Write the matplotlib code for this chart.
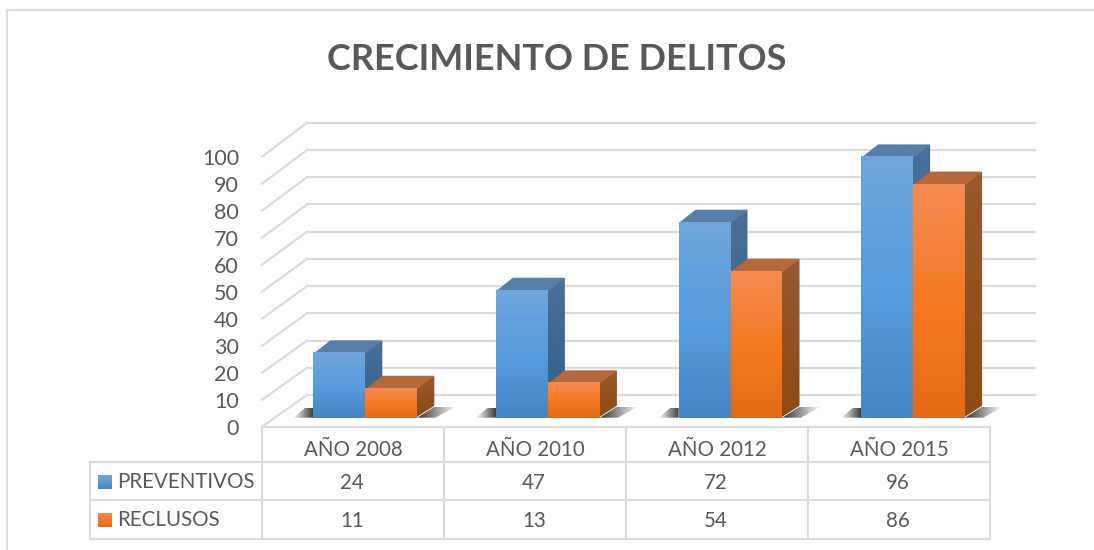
import numpy as np
import matplotlib
matplotlib.use('Agg')
import matplotlib.pyplot as plt
from matplotlib.lines import Line2D
from matplotlib.patches import Polygon
from matplotlib.table import Table
from matplotlib.transforms import Affine2D

plt.rcParams['font.family'] = ['Lato', 'DejaVu Sans']

# data
anios = ['AÑO 2008', 'AÑO 2010', 'AÑO 2012', 'AÑO 2015']
preventivos = [24, 47, 72, 96]
reclusos = [11, 13, 54, 86]
ticks = list(range(0, 101, 10))

W, H = 1094, 550
GRID = '#dcdcdc'
TXT = '#595959'

# 3d look, in axes data units (x = category, y = value)
PX = 182.0   # pixels per category
PY = 2.70    # pixels per value
DEEP = 2.722 / PY   # the back wall and the bars sit a little bigger than the front ticks
floor_y = 9 / PY
bar_w = 52 / PX
dep_x = 17 / PX
dep_y = 12 / PY
back_x = 45 / PX
back_y = 31.7 / PY
ov_x, ov_y = 1.5 / PX, 1.5 / PY   # faces overlap a bit so no white gap shows

blue = {'front': ['#70a6dd', '#569cdc', '#4585c5'], 'side': ['#4a7098', '#2f5f8d'], 'top': ['#567fa9', '#567fa9']}
orange = {'front': ['#f48c54', '#f57a22', '#e36a16'], 'side': ['#99582e', '#8f4a10'], 'top': ['#b5683c', '#b5683c']}

fig = plt.figure(figsize=(W / 100, H / 100), dpi=100)
ax = fig.add_axes([262 / W, 1 - 426.7 / H, 728 / W, 270 / H])
ax.set_xlim(0, 4)
ax.set_ylim(0, 100)
for s in ax.spines.values():
    s.set_visible(False)
ax.set_xticks([])
ax.set_yticks(ticks)
ax.tick_params(axis='y', length=0, pad=16.5, labelsize=15.5, labelcolor=TXT)


def grad(points, colors, z, horizontal=False):
    # gradient image clipped to a polygon
    pts = np.array(points)
    cmap = matplotlib.colors.LinearSegmentedColormap.from_list('g', colors)
    arr = np.linspace(0, 1, 128)
    arr = arr.reshape(1, -1) if horizontal else arr.reshape(-1, 1)
    im = ax.imshow(arr, cmap=cmap, aspect='auto', zorder=z, interpolation='bilinear',
                   extent=[pts[:, 0].min(), pts[:, 0].max(), pts[:, 1].min(), pts[:, 1].max()],
                   origin='upper' if not horizontal else 'lower')
    poly = Polygon(points, transform=ax.transData, facecolor='none', edgecolor='none')
    ax.add_patch(poly)
    im.set_clip_path(poly)
    im.set_clip_box(fig.bbox)


def bar3d(x, v, st, z):
    y0 = floor_y
    y1 = floor_y + v * DEEP
    xr = x + bar_w
    # shadows on the floor are drawn by the caller, here only the box
    grad([(xr - ov_x, y0), (xr + dep_x, y0 + dep_y), (xr + dep_x, y1 + dep_y), (xr - ov_x, y1)],
         st['side'], z)
    grad([(x, y1 - ov_y), (x + dep_x, y1 + dep_y), (xr + dep_x, y1 + dep_y), (xr, y1 - ov_y)],
         st['top'], z)
    grad([(x, y0), (xr, y0), (xr, y1), (x, y1)], st['front'], z + 0.1)


# walls
for t in ticks:
    ax.plot([0, back_x], [t, t * DEEP + back_y], color=GRID, lw=1.6, clip_on=False, zorder=1)
    ax.plot([back_x, 4 + back_x], [t * DEEP + back_y, t * DEEP + back_y], color=GRID, lw=1.6, clip_on=False, zorder=1)

# bars
for i in range(len(anios)):
    x = i * 182.6 / PX + 51.3 / PX
    # shadow left and right of the pair
    grad([(x - 20 / PX, floor_y), (x, floor_y), (x + 0.001, floor_y + 10 / PY), (x - 8 / PX, floor_y + 10 / PY)],
         ['#ffffff', '#333333'], 2, horizontal=True)
    xr = x + 2 * bar_w
    grad([(xr, floor_y), (xr + dep_x, floor_y + 11 / PY), (xr + 38 / PX, floor_y + 11 / PY), (xr + 18 / PX, floor_y)],
         ['#333333', '#ffffff'], 2, horizontal=True)
    bar3d(x, preventivos[i], blue, 3 + i)
    bar3d(x + bar_w, reclusos[i], orange, 3.5 + i)

ax.set_xlim(0, 4)
ax.set_ylim(0, 100)

# data table under the plot
tab = Table(ax, bbox=[(90 - 262) / 728, (426.7 - 539) / 270, (990 - 90) / 728, 112.3 / 270])
lab_w = 172 / 728
col_w = 182 / 728
for j, a in enumerate(anios):
    c = tab.add_cell(0, j + 1, col_w, 35, text=a, loc='center', edgecolor=GRID)
    c.get_text().set_transform(Affine2D().translate(0, -6))
names = ['PREVENTIVOS', 'RECLUSOS']
for r, (name, vals) in enumerate(zip(names, [preventivos, reclusos])):
    c = tab.add_cell(r + 1, 0, lab_w, 38.5, text=name, loc='left', edgecolor=GRID)
    c.PAD = 27 / 172
    c.get_text().set_transform(Affine2D().translate(0, -1 if r == 0 else 0))
    for j, v in enumerate(vals):
        c = tab.add_cell(r + 1, j + 1, col_w, 38.5, text=str(v), loc='center', edgecolor=GRID)
        c.get_text().set_transform(Affine2D().translate(-1, -2 if r == 0 else -1))
tab.auto_set_font_size(False)
tab.set_fontsize(14.8)
for cell in tab.get_celld().values():
    cell.set_linewidth(1.5)
    cell.get_text().set_color(TXT)
ax.add_table(tab)

# legend keys inside the table
leg = fig.add_axes([0, 0, 1, 1], facecolor='none')
leg.set_axis_off()
for top, st in ((475, blue), (513, orange)):
    cm = matplotlib.colors.LinearSegmentedColormap.from_list('k', st['front'])
    leg.imshow(np.linspace(0, 1, 32).reshape(-1, 1), cmap=cm, aspect='auto',
               extent=[98, 112, top + 14, top])
leg.set_xlim(0, W)
leg.set_ylim(H, 0)

fig.text(557 / W, 1 - 59.5 / H, 'CRECIMIENTO DE DELITOS', ha='center', va='center',
         fontsize=25.9, fontweight='bold', color=TXT)

# chart frame
fig.add_artist(Line2D([7 / W, 7 / W], [0, 1 - 9.5 / H], color=GRID, lw=1.5))
fig.add_artist(Line2D([7 / W, 1], [1 - 9.5 / H, 1 - 9.5 / H], color=GRID, lw=1.5))

fig.savefig('out.png', dpi=100)
